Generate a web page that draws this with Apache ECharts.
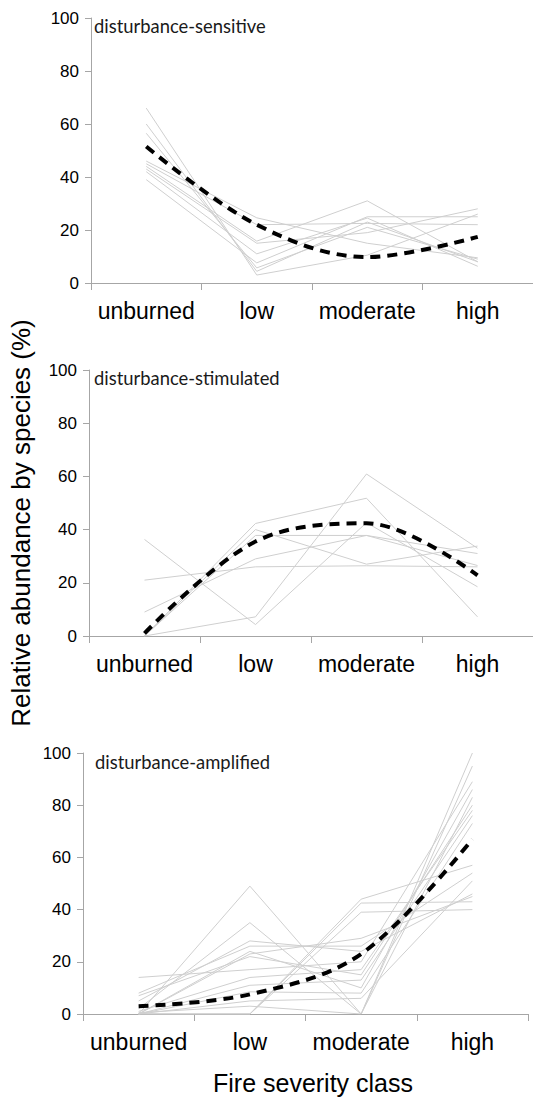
<!DOCTYPE html>
<html>
<head>
<meta charset="utf-8">
<script src="https://cdn.jsdelivr.net/npm/echarts@6/dist/echarts.min.js"></script>
<style>
html,body{margin:0;padding:0;background:#fff;}
#chart{width:533px;height:1097px;}
</style>
</head>
<body>
<div id="chart"></div>
<script>
// ---- data ----
const categories = ['unburned', 'low', 'moderate', 'high'];
const panelTitles = ['disturbance-sensitive', 'disturbance-stimulated', 'disturbance-amplified'];
const yAxisTitle = 'Relative abundance by species (%)';
const xAxisTitle = 'Fire severity class';

// disturbance-sensitive species (grey lines)
const sensitiveSpecies = [
  [66, 3, 10.5, 26],
  [60, 4.4, 23, 8],
  [56.5, 5.7, 21, 9],
  [46, 24.6, 15, 9.5],
  [45, 22, 22.5, 22],
  [44, 15.8, 31, 8],
  [43, 15, 19, 28],
  [42, 11, 24.5, 6.3],
  [39, 7.6, 25, 25]
];
const sensitiveMean = [51.5, 22, 9.8, 17.4];

// disturbance-stimulated species (grey lines)
const stimulatedSpecies = [
  [0, 42.3, 51.8, 7.2],
  [0, 40, 27, 33.8],
  [0, 37.8, 37.8, 31],
  [0, 7.2, 60.9, 33],
  [36.3, 4.3, 42.6, 18.5],
  [21, 26, 26.4, 26],
  [9, 29, 37.8, 26.5]
];
const stimulatedMean = [1, 35.5, 42.4, 22.8];

// disturbance-amplified species (grey lines)
const amplifiedSpecies = [
  [0, 49, 0, 100],
  [2, 35, 0, 95],
  [5, 28, 24, 46],
  [8, 26, 26, 54],
  [14, 17, 20, 89],
  [0, 24, 10, 86],
  [0, 23, 29, 45],
  [7, 22, 15, 80],
  [1, 14, 17, 78],
  [0, 11, 13, 76],
  [0, 8.5, 8, 73],
  [0, 5, 6, 51],
  [0, 0, 44, 57],
  [0, 0, 42.5, 43],
  [0, 0, 39, 40],
  [0.5, 3, 0, 83]
];
const amplifiedMean = [3, 7.5, 23, 67];

const panels = [
  { species: sensitiveSpecies, mean: sensitiveMean },
  { species: stimulatedSpecies, mean: stimulatedMean },
  { species: amplifiedSpecies, mean: amplifiedMean }
];

// ---- layout ----
const grids = [
  { left: 91, top: 18, width: 444, height: 265 },
  { left: 89, top: 370, width: 446, height: 266 },
  { left: 83, top: 753, width: 445, height: 261 }
];
const titlePos = [
  { left: 94, top: 17 },
  { left: 94, top: 369 },
  { left: 95, top: 753 }
];
const AXIS = '#a6a6a6';
const LABEL_FONT = 'Liberation Sans, Arial, sans-serif';

const chart = echarts.init(document.getElementById('chart'), null, { renderer: 'svg' });

const series = [];
panels.forEach((p, i) => {
  p.species.forEach(vals => {
    series.push({
      type: 'line', xAxisIndex: i, yAxisIndex: i, data: vals,
      symbol: 'none', silent: true, z: 2,
      lineStyle: { color: '#cfcfcf', width: 1 }
    });
  });
  series.push({
    type: 'line', xAxisIndex: i, yAxisIndex: i, data: p.mean,
    symbol: 'none', silent: true, z: 5, smooth: 0.35,
    lineStyle: { color: '#000', width: 4, type: [10, 7], cap: 'butt' }
  });
});

const option = {
  animation: false,
  backgroundColor: '#fff',
  title: panelTitles.map((t, i) => ({
    text: t, left: titlePos[i].left, top: titlePos[i].top, padding: 0,
    textStyle: { fontFamily: 'Lato, sans-serif', fontSize: 18.4, fontWeight: 'normal', color: '#1a1a1a' }
  })),
  grid: grids.map(g => Object.assign({ containLabel: false }, g)),
  xAxis: grids.map((g, i) => ({
    gridIndex: i, type: 'category', data: categories, boundaryGap: true,
    axisLine: { show: true, lineStyle: { color: AXIS, width: 1 } },
    axisTick: { show: true, length: 7, lineStyle: { color: AXIS } },
    axisLabel: { fontFamily: LABEL_FONT, fontSize: 23, color: '#000', margin: 16, interval: 0 },
    splitLine: { show: false }
  })),
  yAxis: grids.map((g, i) => ({
    gridIndex: i, type: 'value', min: 0, max: 100, interval: 20,
    axisLine: { show: true, lineStyle: { color: AXIS, width: 1 } },
    axisTick: { show: true, length: 6, lineStyle: { color: AXIS } },
    axisLabel: { fontFamily: LABEL_FONT, fontSize: 17, color: '#000', margin: 12 },
    splitLine: { show: false }
  })),
  graphic: [
    {
      type: 'text', x: 21, y: 523, rotation: Math.PI / 2,
      style: { text: yAxisTitle, font: '26px Liberation Sans, Arial, sans-serif', fill: '#000', textAlign: 'center', textVerticalAlign: 'middle' }
    },
    {
      type: 'text', x: 313, y: 1083,
      style: { text: xAxisTitle, font: '25px Liberation Sans, Arial, sans-serif', fill: '#000', textAlign: 'center', textVerticalAlign: 'middle' }
    }
  ],
  series: series
};
chart.setOption(option);
</script>
</body>
</html>
